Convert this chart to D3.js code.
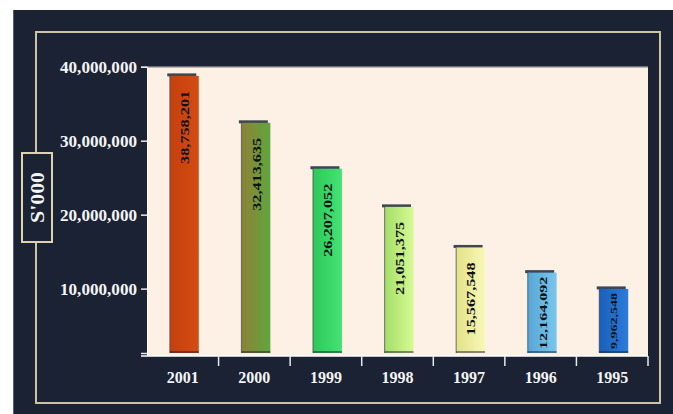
<!DOCTYPE html>
<html><head><meta charset="utf-8">
<script src="https://cdn.jsdelivr.net/npm/d3@7/dist/d3.min.js"></script>
<style>body{margin:0;background:#fff}svg{display:block}</style>
</head><body>
<svg id="c" width="673" height="414"></svg>
<script>
// ---- data ----
const years = ["2001","2000","1999","1998","1997","1996","1995"];
const values = [38758201, 32413635, 26207052, 21051375, 15567548, 12164092, 9962548];
const yTicks = [10000000, 20000000, 30000000, 40000000];
const yTitle = "S'000";
// ---- styles ----
const barLeft  = ["#c4400e","#8c8236","#2ec85a","#a4de68","#e2e288","#56a6d6","#1860bc"];
const barRight = ["#d44c14","#60a63e","#44e274","#d6fa94","#f8f8b8","#7ac6ec","#2c7cda"];

const svg = d3.select("#c");
const W = 673, H = 414;
const plot = {l:147, r:648, t:66.7, b:353};

svg.append("rect").attr("x",13).attr("y",10).attr("width",W-13).attr("height",H-10).attr("fill","#1a2234");
svg.append("line").attr("x1",13.5).attr("x2",13.5).attr("y1",10).attr("y2",H).attr("stroke","#5a6070").attr("stroke-width",1);
svg.append("rect").attr("x",36).attr("y",32).attr("width",624).attr("height",371)
  .attr("fill","none").attr("stroke","#cbc3a3").attr("stroke-width",2);

const defs = svg.append("defs");
years.forEach((y,i)=>{
  const g = defs.append("linearGradient").attr("id","g"+i).attr("x1","0").attr("x2","1").attr("y1","0").attr("y2","0");
  g.append("stop").attr("offset","0").attr("stop-color",barLeft[i]);
  g.append("stop").attr("offset","1").attr("stop-color",barRight[i]);
});

// plot background
svg.append("rect").attr("x",plot.l).attr("y",plot.t).attr("width",plot.r-plot.l).attr("height",plot.b-plot.t+3)
  .attr("fill","#fdf0e4");
svg.append("line").attr("x1",plot.l).attr("x2",plot.r).attr("y1",plot.t+0.5).attr("y2",plot.t+0.5)
  .attr("stroke","#9a9a9a").attr("stroke-width",1);

const x = d3.scaleBand().domain(years).range([plot.l, plot.r]).padding(0);
const y = d3.scaleLinear().domain([1300000, 40000000]).range([plot.b, plot.t]);

// y axis
const yAxis = d3.axisLeft(y).tickValues([1300000].concat(yTicks)).tickSize(6).tickPadding(4)
  .tickFormat(d => d < yTicks[0] ? "" : d3.format(",")(d));
const ya = svg.append("g").attr("transform",`translate(${plot.l},0)`).call(yAxis);
ya.select(".domain").attr("stroke","#ffffff");
ya.selectAll(".tick line").attr("stroke","#e8e8e8").attr("stroke-width",1.5);
ya.selectAll(".tick text").attr("fill","#f4f4f4").attr("font-family","'Liberation Serif','Times New Roman',serif")
  .attr("font-weight","bold").attr("font-size",16).attr("dy","0.35em")
  .attr("textLength",77).attr("lengthAdjust","spacingAndGlyphs");

// x axis
const xAxis = d3.axisBottom(x).tickSize(0).tickPadding(0);
const xa = svg.append("g").attr("transform",`translate(0,${plot.b+3})`).call(xAxis);
xa.select(".domain").remove();
xa.selectAll(".tick text").attr("fill","#f4f4f4").attr("font-family","'Liberation Serif','Times New Roman',serif")
  .attr("font-weight","bold").attr("font-size",16).attr("y",27).attr("dy",0);
svg.append("line").attr("x1",plot.l-6).attr("x2",plot.r).attr("y1",plot.b+3).attr("y2",plot.b+3)
  .attr("stroke","#ffffff").attr("stroke-width",1.5);
svg.selectAll("line.sep").data(years).enter().append("line").attr("class","sep")
  .attr("x1",d=>x(d)+x.bandwidth()).attr("x2",d=>x(d)+x.bandwidth())
  .attr("y1",plot.b+3).attr("y2",plot.b+13).attr("stroke","#e8e8e8").attr("stroke-width",1.5);

// bars
const bw = 29;
const bars = svg.append("g");
years.forEach((yr,i)=>{
  const cx = x(yr) + x.bandwidth()/2;
  const top = y(values[i]);
  // dark cap (3D top)
  bars.append("rect").attr("x",cx-bw/2-1).attr("y",top-2.5).attr("width",bw).attr("height",3).attr("fill","#3e4656");
  bars.append("rect").attr("x",cx-bw/2+1.5).attr("y",top).attr("width",bw).attr("height",plot.b-top)
    .attr("fill",`url(#g${i})`);
  bars.append("rect").attr("x",cx-bw/2+1).attr("y",top).attr("width",1.2).attr("height",plot.b-top).attr("fill","#3c4454").attr("opacity",0.6);
  bars.append("rect").attr("x",cx-bw/2+1.5).attr("y",plot.b-2).attr("width",bw).attr("height",2).attr("fill","#1a2234").attr("opacity",0.5);
  // value label
  const h = plot.b - top;
  const label = d3.format(",")(values[i]);
  let fs = 12, len = 73, anchor = "end", ty = top + 15;
  if (h < len + 20) { len = Math.min(len, h - 8); fs = len > 60 ? 11 : 8; anchor = "middle"; ty = top + h/2; }
  bars.append("text").attr("transform",`translate(${cx+2},${ty}) rotate(-90)`)
    .attr("text-anchor",anchor).attr("dy","0.35em")
    .attr("font-family","'Liberation Serif','Times New Roman',serif").attr("font-weight","bold")
    .attr("font-size",fs).attr("fill","#111")
    .attr("textLength",len).attr("lengthAdjust","spacingAndGlyphs")
    .text(label);
});

// y title box
svg.append("rect").attr("x",22).attr("y",153).attr("width",30).attr("height",89)
  .attr("fill","#1a2234").attr("stroke","#ddd3ae").attr("stroke-width",2);
svg.append("text").attr("transform","translate(37,197.5) rotate(-90)").attr("text-anchor","middle").attr("dy","0.35em")
  .attr("font-family","'Liberation Serif','Times New Roman',serif").attr("font-weight","bold").attr("font-size",19)
  .attr("fill","#f4f4f4").attr("textLength",51).attr("lengthAdjust","spacingAndGlyphs").text(yTitle);
</script>
</body></html>
